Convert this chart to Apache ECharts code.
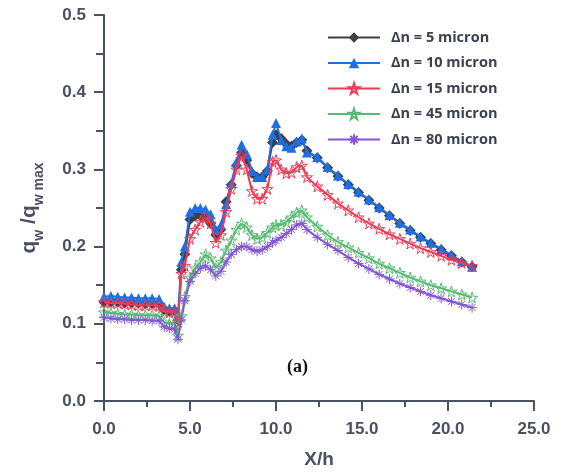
<!DOCTYPE html>
<html>
<head>
<meta charset="utf-8">
<script src="https://cdn.jsdelivr.net/npm/echarts@6/dist/echarts.min.js"></script>
<style>html,body{margin:0;padding:0;background:#fff;}#c{width:573px;height:476px;}</style>
</head>
<body>
<div id="c"></div>
<script>
const xVals = [0, 0.4, 0.8, 1.2, 1.6, 2.0, 2.4, 2.8, 3.2, 3.5, 3.8, 4.1, 4.3, 4.5, 4.7, 5.0, 5.3, 5.6, 5.9, 6.2, 6.5, 6.8, 7.1, 7.4, 7.7, 8.0, 8.3, 8.6, 8.9, 9.2, 9.5, 9.8, 10.0, 10.3, 10.6, 10.9, 11.2, 11.5, 11.8, 12.4, 13.0, 13.6, 14.2, 14.8, 15.4, 16.0, 16.6, 17.2, 17.8, 18.4, 19.0, 19.6, 20.2, 20.8, 21.4];

const dn5 = [0.128, 0.128, 0.128, 0.127, 0.127, 0.127, 0.126, 0.126, 0.126, 0.118, 0.116, 0.117, 0.105, 0.170, 0.190, 0.235, 0.240, 0.240, 0.238, 0.230, 0.215, 0.222, 0.258, 0.280, 0.305, 0.322, 0.312, 0.295, 0.290, 0.290, 0.298, 0.335, 0.345, 0.340, 0.333, 0.330, 0.335, 0.338, 0.324, 0.315, 0.302, 0.291, 0.280, 0.270, 0.260, 0.250, 0.240, 0.230, 0.221, 0.212, 0.204, 0.196, 0.188, 0.180, 0.174];
const dn10 = [0.135, 0.136, 0.135, 0.134, 0.134, 0.133, 0.133, 0.133, 0.132, 0.122, 0.120, 0.120, 0.112, 0.180, 0.200, 0.245, 0.250, 0.250, 0.248, 0.242, 0.222, 0.228, 0.255, 0.282, 0.310, 0.332, 0.320, 0.298, 0.290, 0.290, 0.300, 0.345, 0.360, 0.338, 0.330, 0.328, 0.336, 0.340, 0.322, 0.316, 0.303, 0.292, 0.281, 0.271, 0.261, 0.251, 0.241, 0.231, 0.222, 0.213, 0.205, 0.197, 0.189, 0.181, 0.174];
const dn15 = [0.128, 0.127, 0.127, 0.126, 0.125, 0.124, 0.124, 0.124, 0.123, 0.116, 0.115, 0.115, 0.102, 0.165, 0.175, 0.210, 0.222, 0.232, 0.238, 0.230, 0.205, 0.215, 0.245, 0.275, 0.300, 0.318, 0.300, 0.272, 0.262, 0.262, 0.275, 0.310, 0.312, 0.300, 0.295, 0.296, 0.303, 0.305, 0.290, 0.278, 0.267, 0.256, 0.247, 0.238, 0.230, 0.223, 0.216, 0.210, 0.204, 0.198, 0.193, 0.188, 0.183, 0.179, 0.175];
const dn45 = [0.115, 0.114, 0.113, 0.112, 0.112, 0.111, 0.111, 0.111, 0.110, 0.102, 0.100, 0.100, 0.085, 0.110, 0.135, 0.160, 0.172, 0.180, 0.190, 0.185, 0.172, 0.180, 0.195, 0.208, 0.222, 0.230, 0.225, 0.215, 0.210, 0.212, 0.218, 0.225, 0.228, 0.228, 0.232, 0.238, 0.244, 0.247, 0.238, 0.226, 0.215, 0.206, 0.199, 0.192, 0.185, 0.178, 0.172, 0.166, 0.160, 0.155, 0.150, 0.146, 0.142, 0.138, 0.134];
const dn80 = [0.108, 0.107, 0.106, 0.106, 0.105, 0.105, 0.105, 0.104, 0.104, 0.096, 0.094, 0.093, 0.080, 0.105, 0.130, 0.155, 0.165, 0.172, 0.175, 0.170, 0.162, 0.168, 0.180, 0.190, 0.196, 0.200, 0.200, 0.196, 0.194, 0.196, 0.200, 0.205, 0.208, 0.212, 0.217, 0.222, 0.228, 0.230, 0.222, 0.212, 0.203, 0.195, 0.186, 0.178, 0.171, 0.164, 0.158, 0.152, 0.147, 0.142, 0.137, 0.133, 0.129, 0.125, 0.121];

const seriesNames = ['Δn = 5 micron', 'Δn = 10 micron', 'Δn = 15 micron', 'Δn = 45 micron', 'Δn = 80 micron'];
const xTicks = { min: 0, max: 25, interval: 5 };
const yTicks = { min: 0, max: 0.5, interval: 0.1 };

const STAR = 'path://M50,0 L61,35 L98,35 L68,57 L79,91 L50,70 L21,91 L32,57 L2,35 L39,35 Z';
const AST = 'path://M10,0 L10,20 M0,10 L20,10 M3,3 L17,17 M17,3 L3,17 M10,0 Z';

function pairs(ys) { return xVals.map((x, i) => [x, ys[i]]); }

const axisColor = '#4a5263';
const labelStyle = { color: '#4a5060', fontFamily: 'Liberation Sans', fontWeight: 'bold', fontSize: 17 };

const chart = echarts.init(document.getElementById('c'), null, { renderer: 'canvas' });
chart.setOption({
  animation: false,
  backgroundColor: '#fff',
  grid: { left: 104, right: 39, top: 15, bottom: 75 },
  legend: {
    orient: 'vertical', left: 322, top: 25,
    itemWidth: 52, itemHeight: 13, itemGap: 10.5,
    textStyle: { color: '#3c4150', fontFamily: 'Open Sans', fontWeight: 'bold', fontSize: 14.5, padding: [0, 0, 0, 6] },
    data: seriesNames
  },
  xAxis: {
    type: 'value', min: xTicks.min, max: xTicks.max, interval: xTicks.interval,
    name: 'X/h', nameLocation: 'middle', nameGap: 49,
    nameTextStyle: { color: '#4a5060', fontFamily: 'Liberation Sans', fontWeight: 'bold', fontSize: 19 },
    axisLine: { show: true, lineStyle: { color: axisColor, width: 2 } },
    axisTick: { show: true, inside: false, length: 10, lineStyle: { color: axisColor, width: 2 } },
    minorTick: { show: true, splitNumber: 2, length: 6, lineStyle: { color: axisColor, width: 2 } },
    splitLine: { show: false },
    axisLabel: Object.assign({ margin: 20, formatter: v => v.toFixed(1) }, labelStyle)
  },
  yAxis: {
    type: 'value', min: yTicks.min, max: yTicks.max, interval: yTicks.interval,
    name: '{a|q}{s|w}{a| /q}{s|w max}', nameLocation: 'middle', nameGap: 62, nameRotate: 90,
    nameTextStyle: {
      color: '#4a5060', fontFamily: 'Liberation Sans', fontWeight: 'bold',
      rich: {
        a: { fontSize: 21, fontFamily: 'Liberation Sans', fontWeight: 'bold', color: '#4a5060', lineHeight: 26, verticalAlign: 'middle' },
        s: { fontSize: 14, fontFamily: 'Liberation Sans', fontWeight: 'bold', color: '#4a5060', lineHeight: 14, verticalAlign: 'bottom', padding: [0, 0, -4, 0] }
      }
    },
    axisLine: { show: true, lineStyle: { color: axisColor, width: 2 } },
    axisTick: { show: true, inside: false, length: 10, lineStyle: { color: axisColor, width: 2 } },
    minorTick: { show: true, splitNumber: 2, length: 8, lineStyle: { color: axisColor, width: 2 } },
    splitLine: { show: false },
    axisLabel: Object.assign({ margin: 18, formatter: v => v.toFixed(1) }, labelStyle)
  },
  graphic: [{
    type: 'text', left: 287, top: 358,
    style: { text: '(a)', fill: '#111', font: 'bold 18px "Liberation Serif"' }
  }],
  series: [
    { name: seriesNames[0], type: 'line', data: pairs(dn5), symbol: 'diamond', symbolSize: 11, z: 2,
      lineStyle: { color: '#3b4048', width: 2 }, itemStyle: { color: '#3b4048' } },
    { name: seriesNames[1], type: 'line', data: pairs(dn10), symbol: 'triangle', symbolSize: 10, z: 3,
      lineStyle: { color: '#1f6fe0', width: 2 }, itemStyle: { color: '#1f6fe0' } },
    { name: seriesNames[2], type: 'line', data: pairs(dn15), symbol: STAR, symbolSize: 11, z: 4,
      lineStyle: { color: '#f03a55', width: 2 }, itemStyle: { color: 'rgba(255,255,255,0)', borderColor: '#f03a55', borderWidth: 1 } },
    { name: seriesNames[3], type: 'line', data: pairs(dn45), symbol: STAR, symbolSize: 11, z: 4,
      lineStyle: { color: '#56bb72', width: 2 }, itemStyle: { color: 'rgba(255,255,255,0)', borderColor: '#56bb72', borderWidth: 1 } },
    { name: seriesNames[4], type: 'line', data: pairs(dn80), symbol: AST, symbolSize: 10, z: 4,
      lineStyle: { color: '#8455d6', width: 2 }, itemStyle: { color: 'rgba(255,255,255,0)', borderColor: '#8455d6', borderWidth: 1 } }
  ]
});
</script>
</body>
</html>
